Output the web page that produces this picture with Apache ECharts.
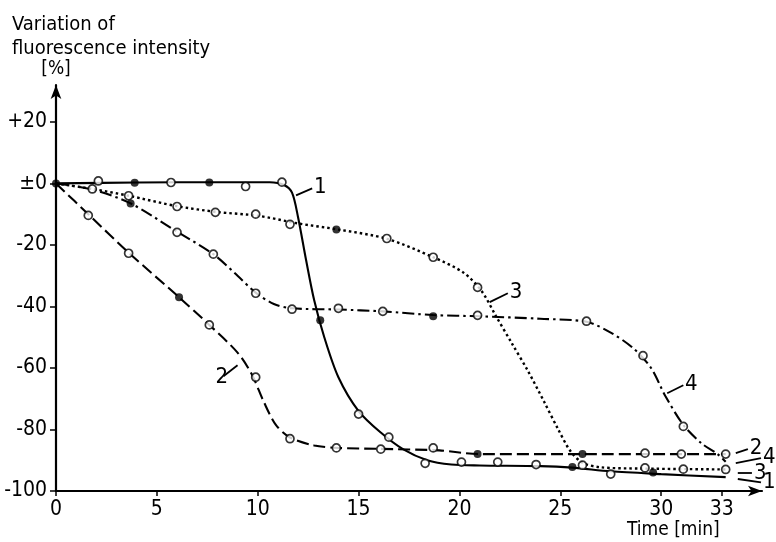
<!DOCTYPE html>
<html>
<head>
<meta charset="UTF-8">
<title>Fluorescence intensity</title>
<script src="https://cdn.jsdelivr.net/npm/echarts@6.0.0/dist/echarts.min.js"></script>
<style>html,body{margin:0;padding:0;background:#fff}#main{width:776px;height:542px}</style>
</head>
<body>
<div id="main"></div>
<script>
// axis ticks
var xTicks = [0, 5, 10, 15, 20, 25, 30, 33];
var yTicks = [-100, -80, -60, -40, -20, 0, 20];
var yTickLabels = ['-100', '-80', '-60', '-40', '-20', '\u00b10', '+20'];

// drawn curves [time min, variation %]
var curve1 = [[0,0],[4,0.3],[8,0.4],[10.6,0.4],[11.3,-0.5],[11.7,-3],[12,-11],[12.4,-25],[12.8,-38],[13.3,-50],[14,-63],[15,-74],[16.1,-81],[17.2,-86.4],[18.4,-90],[19.6,-91.4],[21,-91.7],[24,-91.9],[25.6,-92.4],[27.5,-93.6],[30,-94.5],[33.2,-95.5]];
var curve2 = [[0,0],[1.6,-10],[3.6,-22.5],[6.1,-37],[7.6,-46],[9,-55],[9.7,-62],[10.3,-71],[10.9,-78.5],[11.6,-82.6],[12.8,-85.2],[14,-86],[16,-86.3],[19,-86.8],[21,-88],[26,-88],[33.2,-88]];
var curve3 = [[0,0],[1.8,-1.8],[3.6,-4],[6,-7.4],[8,-9.3],[10,-10.5],[12,-13],[14,-15],[16.4,-18],[18.7,-24],[20.2,-29],[21.1,-35],[21.8,-43],[22.6,-52],[23.4,-61],[24.2,-71],[24.9,-80],[25.5,-87],[26.1,-90.8],[27,-92.3],[29,-92.7],[33.2,-93]];
var curve4 = [[0,0],[1.8,-2],[3.7,-6.5],[6,-15.7],[7.8,-23],[9,-30],[9.9,-35.5],[10.8,-39.2],[11.7,-40.6],[14,-41],[16.2,-41.6],[18.7,-42.8],[21,-43.2],[24,-44],[26.3,-45],[27.5,-48.5],[28.6,-53.5],[29.5,-60],[30.2,-69],[31.1,-78.5],[32,-84.5],[32.8,-88],[33.2,-90.5]];

// measured points
var openPoints = [[2.1,0.8],[5.7,0.3],[9.4,-1],[11.2,0.4],[15,-75],[16.5,-82.5],[18.3,-91],[20.1,-90.6],[21.9,-90.6],[23.8,-91.4],[27.5,-94.5],
  [1.6,-10.4],[3.6,-22.7],[7.6,-46],[9.9,-63],[11.6,-83],[13.9,-86],[16.1,-86.4],[18.7,-86],[29.2,-87.7],[31,-88],[33.2,-88],
  [1.8,-1.8],[3.6,-4],[6,-7.5],[7.9,-9.4],[9.9,-10],[11.6,-13.3],[16.4,-17.9],[18.7,-24],[20.9,-33.8],[26.1,-91.6],[29.2,-92.5],[31.1,-92.9],[33.2,-93],
  [6,-15.9],[7.8,-23],[9.9,-35.7],[11.7,-40.9],[14,-40.6],[16.2,-41.6],[20.9,-42.9],[26.3,-44.8],[29.1,-56],[31.1,-79]];
var filledPoints = [[0,0],[3.9,0.2],[7.6,0.3],[13.1,-44.5],[25.6,-92.2],[29.6,-94],
  [6.1,-37],[20.9,-88],[26.1,-88],[13.9,-15],[3.7,-6.5],[18.7,-43.2]];

// curve numbers with leader lines
var callouts = [
  [{ from: [11.9, -3.9], to: [12.7, -1.6], text: '1' }, { from: [33.8, -96.1], to: [34.95, -97.2], text: '1' }],
  [{ from: [9.0, -59.1], to: [8.3, -62.7], text: '2' }, { from: [33.7, -87.7], to: [34.3, -86.4], text: '2' }],
  [{ from: [21.5, -38.6], to: [22.4, -35.7], text: '3' }, { from: [33.8, -94.2], to: [34.5, -94.2], text: '3' }],
  [{ from: [30.3, -68.2], to: [31.1, -65.6], text: '4' }, { from: [33.7, -90.9], to: [34.95, -89.3], text: '4' }]
];

var font = '"Liberation Sans Narrow", "DejaVu Sans Condensed", sans-serif';
var curves = [curve1, curve2, curve3, curve4];
var dashes = ['solid', [12, 5], [2.5, 3], [12, 4, 2.5, 4]];

var chart = echarts.init(document.getElementById('main'), null, { renderer: 'canvas' });

var series = curves.map(function (c, i) {
  return {
    type: 'line',
    data: c,
    smooth: 0.3,
    showSymbol: false,
    clip: false,
    silent: true,
    lineStyle: { color: '#000', width: i == 2 ? 2.4 : 2.1, type: dashes[i] },
    markLine: {
      silent: true,
      symbol: ['none', 'none'],
      animation: false,
      lineStyle: { color: '#000', width: 1.8, type: 'solid' },
      label: { show: true, position: 'end', distance: 2, color: '#000', fontFamily: font, fontSize: 22,
        formatter: function (p) { return p.data.text; } },
      data: callouts[i].map(function (m) {
        return [{ coord: m.from, text: m.text }, { coord: m.to }];
      })
    }
  };
});

series.push({
  type: 'scatter', data: openPoints, symbol: 'circle', symbolSize: 8, silent: true,
  itemStyle: { color: '#fff', borderColor: '#000', borderWidth: 1.7 }, z: 5
});
series.push({
  type: 'scatter', data: filledPoints, symbol: 'circle', symbolSize: 8, silent: true,
  itemStyle: { color: '#000' }, z: 5
});

var option = {
  animation: false,
  backgroundColor: '#fff',
  title: {
    text: 'Variation of\nfluorescence intensity',
    left: 7, top: 8,
    textStyle: { fontFamily: font, fontSize: 20, fontWeight: 'normal', color: '#000', lineHeight: 24 }
  },
  graphic: [{
    type: 'text', left: 627, top: 521,
    style: { text: 'Time [min]', fontFamily: font, fontSize: 19, fill: '#000' }
  }],
  grid: { left: 56, right: 14, top: 85, bottom: 51 },
  xAxis: {
    type: 'value', min: 0, max: 35,
    splitLine: { show: false },
    axisLine: { onZero: false, lineStyle: { color: '#000', width: 2.2 }, symbol: ['none', 'arrow'], symbolSize: [8, 14] },
    axisTick: { customValues: xTicks, length: 5, lineStyle: { color: '#000', width: 1.5 } },
    axisLabel: { customValues: xTicks, margin: 8, color: '#000', fontFamily: font, fontSize: 21 }
  },
  yAxis: {
    type: 'value', min: -100, max: 32,
    name: '[%]', nameLocation: 'end', nameGap: 6,
    nameTextStyle: { fontFamily: font, fontSize: 19, color: '#000' },
    splitLine: { show: false },
    axisLine: { onZero: false, lineStyle: { color: '#000', width: 2.2 }, symbol: ['none', 'arrow'], symbolSize: [8, 14] },
    axisTick: { customValues: yTicks, length: 6, lineStyle: { color: '#000', width: 1.5 } },
    axisLabel: { customValues: yTicks, margin: 9, color: '#000', fontFamily: font, fontSize: 21,
      formatter: function (v) { return yTickLabels[yTicks.indexOf(v)]; } }
  },
  series: series
};

chart.setOption(option);
</script>
</body>
</html>
